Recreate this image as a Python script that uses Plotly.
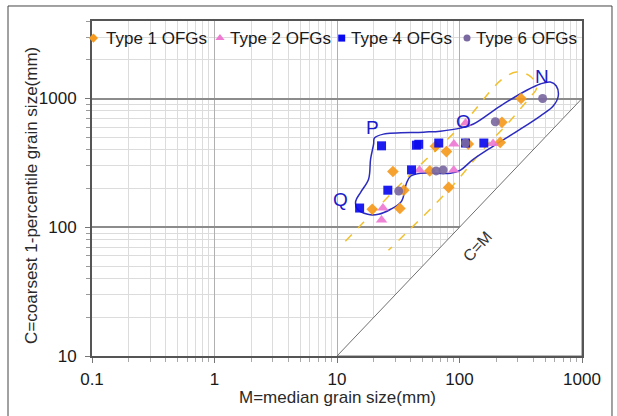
import numpy as np
import plotly.graph_objects as go

FONT = "Liberation Sans, Arial, sans-serif"

# ---- measured grain sizes (mm): M = median, C = coarsest 1-percentile ----
type1_m = [63.6, 78.2, 215, 28.6, 57.2, 35.1, 81.6, 19.4, 32.6, 318, 222, 118]
type1_c = [425, 387, 456, 271, 274, 194, 204, 138, 140, 1000, 653, 443]

type2_m = [90.0, 188, 47.1, 89.7, 23.7, 23.1, 112]
type2_c = [443, 448, 279, 279, 141, 114, 645]

type4_m = [23.1, 44.5, 46.5, 67.7, 112, 158, 40.6, 26.0, 15.3]
type4_c = [429, 434, 441, 451, 451, 451, 279, 194, 141]

type6_m = [112, 64.4, 73.5, 31.9, 477, 196]
type6_c = [451, 274, 279, 191, 1000, 660]

series_names = ["Type 1 OFGs", "Type 2 OFGs", "Type 4 OFGs", "Type 6 OFGs"]

# ---- axis ticks ----
x_tick_vals = [0.1, 1, 10, 100, 1000]
x_tick_text = ["0.1", "1", "10", "100", "1000"]
y_tick_vals = [10, 100, 1000]
y_tick_text = ["10", "100", "1000"]
y_max = 4000

# ---- C = M reference line (region below it is blank) ----
cm_m = [10, 1000, 1000]
cm_c = [10, 1000, 10]

# ---- sketched outlines of the sample groups ----
envelope_m = [19.9, 18.8, 18.1, 15.6, 14.2, 14.7, 17.8, 21.8, 27.4, 33.6, 36.9, 39.8, 48.0,
              84.3, 102, 127, 189, 296, 456, 582, 640, 617, 551, 456, 357, 215, 130, 102,
              69.8, 50.8, 24.0, 20.2, 19.9]
envelope_c = [442, 338, 236, 187, 159, 138, 126, 126, 138, 159, 220, 249, 263,
              263, 278, 332, 427, 558, 731, 874, 1046, 1251, 1343, 1297, 1165, 874, 634, 589,
              558, 548, 529, 493, 442]

band_m = [11.7, 36.2, 108, 179, 224, 291, 364, 416, 424, 385, 313, 237, 157, 84.3, 26.3]
band_c = [77.8, 236, 644, 1143, 1418, 1607, 1524, 1343, 1186, 1046, 828, 611, 405, 201, 66.2]

zone_labels = ["P", "Q", "O", "N"]
zone_label_m = [19.5, 10.7, 108, 474]
zone_label_c = [600, 165, 668, 1470]

styles = {
    "Type 1 OFGs": dict(symbol="diamond", color="#F59A1E", size=9),
    "Type 2 OFGs": dict(symbol="triangle-up", color="#EE7AD2", size=10),
    "Type 4 OFGs": dict(symbol="square", color="#0A0AEE", size=9),
    "Type 6 OFGs": dict(symbol="circle", color="#7A68A0", size=9),
}
series_data = {
    "Type 1 OFGs": (type1_m, type1_c),
    "Type 2 OFGs": (type2_m, type2_c),
    "Type 4 OFGs": (type4_m, type4_c),
    "Type 6 OFGs": (type6_m, type6_c),
}

fig = go.Figure()

# blank wedge under the C=M line, outlined by the line itself
fig.add_trace(go.Scatter(
    x=cm_m + cm_m[:1], y=cm_c + cm_c[:1], mode="lines", fill="toself",
    fillcolor="white", line=dict(color="#707070", width=1),
    hoverinfo="skip", showlegend=False))

# dashed band
fig.add_trace(go.Scatter(
    x=band_m, y=band_c, mode="lines",
    line=dict(color="#F2C02E", width=1.5, dash="dash", shape="spline", smoothing=1),
    hoverinfo="skip", showlegend=False))

# group envelope
fig.add_trace(go.Scatter(
    x=envelope_m, y=envelope_c, mode="lines",
    line=dict(color="#2B2BC0", width=1.5, shape="spline", smoothing=1),
    hoverinfo="skip", showlegend=False))

for name in series_names:
    m, c = series_data[name]
    st = styles[name]
    fig.add_trace(go.Scatter(
        x=m, y=c, mode="markers", name=name,
        marker=dict(symbol=st["symbol"], color=st["color"], size=st["size"],
                    opacity=0.92, line=dict(width=0)),
        showlegend=False))

# ---- legend row along the top of the plot ----
log_y0, log_y1 = 1.0, np.log10(y_max)
def paper_to_data(px, py):
    return 10 ** (-1 + px * 4), 10 ** (log_y0 + py * (log_y1 - log_y0))

legend_marker_px = [0.003, 0.2612, 0.5096, 0.7653]
legend_text_px = [0.0245, 0.2766, 0.5255, 0.7806]
legend_py = 0.949
annotations = []
for name, mx, tx in zip(series_names, legend_marker_px, legend_text_px):
    st = styles[name]
    lx, ly = paper_to_data(mx, legend_py)
    fig.add_trace(go.Scatter(
        x=[lx], y=[ly], mode="markers", cliponaxis=False,
        marker=dict(symbol=st["symbol"], color=st["color"], size=st["size"] - 2,
                    line=dict(width=0)),
        hoverinfo="skip", showlegend=False))
    annotations.append(dict(
        x=tx, y=legend_py, xref="paper", yref="paper", text=name, showarrow=False,
        xanchor="left", yanchor="middle", font=dict(family=FONT, size=17, color="#1a1a1a")))

# zone letters
for lab, m, c in zip(zone_labels, zone_label_m, zone_label_c):
    annotations.append(dict(
        x=np.log10(m), y=np.log10(c), xref="x", yref="y", text=lab, showarrow=False,
        font=dict(family=FONT, size=19, color="#1B1BC8")))

# C=M tag
annotations.append(dict(
    x=np.log10(139), y=np.log10(71.5), xref="x", yref="y", text="C=M", showarrow=False,
    textangle=-47.7, font=dict(family=FONT, size=16, color="#333333")))

# axis titles
annotations.append(dict(
    x=0.5, y=-0.1224, xref="paper", yref="paper", text="M=median grain size(mm)",
    showarrow=False, xanchor="center", yanchor="middle",
    font=dict(family=FONT, size=17, color="#2a2a2a")))
annotations.append(dict(
    x=-0.1224, y=0.478, xref="paper", yref="paper",
    text="C=coarsest 1-percentile grain size(mm)", textangle=-90,
    showarrow=False, xanchor="center", yanchor="middle",
    font=dict(family=FONT, size=17, color="#2a2a2a")))

minor_x = [k * 10.0 ** e for e in range(-1, 3) for k in range(2, 10)]
minor_y = [k * 10.0 ** e for e in range(1, 4) for k in range(2, 10) if k * 10.0 ** e <= y_max]

fig.update_layout(
    width=617, height=416,
    margin=dict(l=92, r=35, t=21, b=60),
    paper_bgcolor="white", plot_bgcolor="white",
    showlegend=False,
    annotations=annotations,
    xaxis=dict(
        type="log", range=[-1, 3], tickmode="array", tickvals=x_tick_vals, ticktext=x_tick_text,
        ticks="outside", ticklen=5, tickcolor="#777", ticklabelstandoff=2,
        showline=True, linecolor="#555", linewidth=2, mirror=True,
        showgrid=True, gridcolor="#b0b0b0", gridwidth=1, zeroline=False,
        layer="below traces",
        tickfont=dict(family=FONT, size=17, color="#1a1a1a"),
        minor=dict(tickmode="array", tickvals=minor_x, ticks="outside", ticklen=4,
                   tickcolor="#aaa", showgrid=True, gridcolor="#dcdcdc", gridwidth=1),
    ),
    yaxis=dict(
        type="log", range=[log_y0, log_y1], tickmode="array", tickvals=y_tick_vals,
        ticktext=y_tick_text, ticks="outside", ticklen=5, tickcolor="#777", ticklabelstandoff=5,
        showline=True, linecolor="#555", linewidth=2, mirror=True,
        showgrid=True, gridcolor="#8c8c8c", gridwidth=1.5, zeroline=False,
        layer="below traces",
        tickfont=dict(family=FONT, size=17, color="#1a1a1a"),
        minor=dict(tickmode="array", tickvals=minor_y, ticks="outside", ticklen=4,
                   tickcolor="#999", showgrid=True, gridcolor="#dcdcdc", gridwidth=1),
    ),
    shapes=[dict(type="rect", xref="paper", yref="paper", x0=-0.1714, x1=1.0612,
                 y0=-0.3, y1=1.0448, line=dict(color="#444", width=1), layer="below")],
)

fig.write_html("out.html")
